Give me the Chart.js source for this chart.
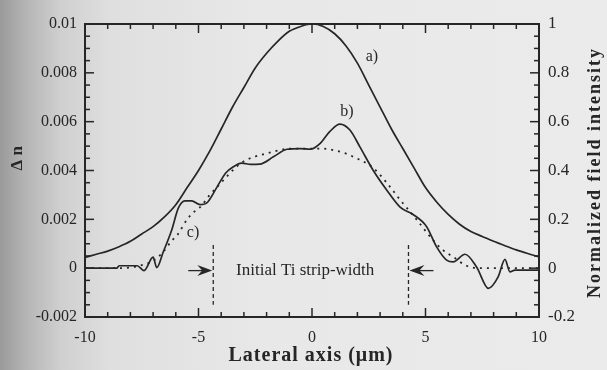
<!DOCTYPE html>
<html>
<head>
<meta charset="utf-8">
<script src="https://cdn.jsdelivr.net/npm/chart.js@4/dist/chart.umd.min.js"></script>
<style>
  html, body { margin: 0; padding: 0; }
  body {
    width: 607px; height: 370px; overflow: hidden;
    background: linear-gradient(to right, #9a9a9a 0px, #b4b4b4 25px, #cfcfcf 60px, #dfdfdf 110px, #e8e8e8 260px, #ebebeb 607px);
  }
  canvas { display: block; }
</style>
</head>
<body>
<canvas id="chart_canvas" width="607" height="370"></canvas>
<script>
// a) field intensity (left axis units: 0.01 = 1)
var xA = [-10, -9.5, -9, -8.5, -8, -7.5, -7, -6.5, -6, -5.5, -5, -4.5, -4, -3.5, -3, -2.5, -2, -1.5, -1, -0.5,
          0, 0.5, 1, 1.5, 2, 2.5, 3, 3.5, 4, 4.5, 5, 5.5, 6, 6.5, 7, 7.5, 8, 8.5, 9, 9.5, 10];
var yA = [0.00044, 0.00057, 0.0007, 0.00088, 0.0011, 0.0014, 0.0017, 0.0021, 0.0026, 0.0033, 0.0040, 0.0048,
          0.0057, 0.0066, 0.0074, 0.0082, 0.0088, 0.0093, 0.0097, 0.0099,
          0.0100, 0.0099, 0.0096, 0.0091, 0.0084, 0.0075, 0.0066, 0.0057, 0.0049, 0.0041, 0.0033, 0.0027,
          0.0022, 0.0018, 0.0015, 0.0013, 0.0011, 0.00092, 0.00075, 0.0006, 0.00046];

// b) index profile
var xB = [-10, -8.6, -8.5, -7.7, -7.4, -7.0, -6.84, -6.55, -6.18, -5.89, -5.6, -5.3, -4.93, -4.6, -4.2, -3.8,
          -3.47, -3.1, -2.7, -2.3, -1.7, -1.1, -0.53, -0.07, 0.35, 0.79, 1.23, 1.67, 2.11, 2.7, 3.29, 3.88,
          4.45, 5.05, 5.49, 5.93, 6.22, 6.74, 7.25, 7.77, 8.2, 8.5, 8.72, 8.94, 10];
var yB = [0, 0, 0.0001, 0.0001, -0.0001, 0.00045, 0.00002, 0.00067, 0.00156, 0.00246, 0.00276, 0.00276,
          0.0026, 0.0027, 0.0033, 0.0039, 0.00415, 0.0043, 0.00425, 0.00426, 0.00456, 0.00487, 0.0049,
          0.00487, 0.0051, 0.0056, 0.0059, 0.00566, 0.00497, 0.0040, 0.0032, 0.0025, 0.0022, 0.0017,
          0.00087, 0.00033, 0.00026, 0.00057, 0.00005, -0.00083, -0.00036, 0.00036, -0.00015, -0.00008, -0.00008];

// c) dotted profile
var xC = [-10, -8.5, -7.6, -7.0, -6.55, -6.2, -5.9, -5.5, -5.2, -4.93, -4.5, -4.1, -3.5, -3.03, -2.0, -0.84,
          0.35, 1.23, 1.97, 2.7, 3.29, 3.88, 4.6, 5.33, 5.77, 6.22, 6.8, 7.5, 10];
var yC = [0, 0, 0.0001, 0.0003, 0.00067, 0.0011, 0.0014, 0.0020, 0.0023, 0.0025, 0.0030, 0.0034, 0.0040,
          0.00436, 0.0047, 0.0049, 0.0049, 0.00477, 0.0045, 0.0041, 0.0035, 0.0028, 0.0020, 0.00115,
          0.00074, 0.00046, 0.0001, 0, 0];

var xTickLabels = ['-10', '-5', '0', '5', '10'];
var stripEdges = [-4.35, 4.25];

function pts(xs, ys) {
    return xs.map(function(x, i) { return { x: x, y: ys[i] }; });
}

var ink = '#262626';
var serif = "'Liberation Serif', 'DejaVu Serif', serif";

// frame, inward ticks, labels, arrows
var decor = {
    id: 'decor',
    afterDatasetsDraw: function(chart) {
        var ctx = chart.ctx, a = chart.chartArea;
        var sx = chart.scales.x, sy = chart.scales.y, sy2 = chart.scales.y2;
        ctx.save();
        ctx.strokeStyle = ink;
        ctx.fillStyle = ink;

        function seg(x1, y1, x2, y2) {
            ctx.beginPath(); ctx.moveTo(x1, y1); ctx.lineTo(x2, y2); ctx.stroke();
        }

        // ticks
        ctx.lineWidth = 1.5;
        for (var i = -10; i <= 10; i++) {
            var px = sx.getPixelForValue(i), len = (i % 5 === 0) ? 9 : 5;
            seg(px, a.bottom, px, a.bottom - len);
            seg(px, a.top, px, a.top + len);
        }
        for (var k = 0; k <= 24; k++) {
            var l = (k % 4 === 0) ? 9 : 5;
            var py = sy.getPixelForValue(-0.002 + k * 0.0005);
            seg(a.left, py, a.left + l, py);
            var py2 = sy2.getPixelForValue(-0.2 + k * 0.05);
            seg(a.right, py2, a.right - l, py2);
        }

        // frame
        ctx.lineWidth = 2;
        ctx.strokeRect(a.left, a.top, a.right - a.left, a.bottom - a.top);

        // strip edges
        ctx.lineWidth = 1.3;
        ctx.setLineDash([4, 3]);
        stripEdges.forEach(function(e) {
            var ex = sx.getPixelForValue(e);
            seg(ex, sy.getPixelForValue(0.00095), ex, sy.getPixelForValue(-0.0015));
        });
        ctx.setLineDash([]);

        // arrows pointing at the strip edges
        var ay = sy.getPixelForValue(-0.0001);
        function arrow(tipX, dir) {
            ctx.lineWidth = 1.3;
            seg(tipX - dir * 24, ay, tipX - dir * 9, ay);
            ctx.beginPath();
            ctx.moveTo(tipX, ay);
            ctx.lineTo(tipX - dir * 15, ay - 5.5);
            ctx.lineTo(tipX - dir * 10, ay);
            ctx.lineTo(tipX - dir * 15, ay + 5.5);
            ctx.closePath();
            ctx.fill();
        }
        arrow(sx.getPixelForValue(stripEdges[0]) - 1, 1);
        arrow(sx.getPixelForValue(stripEdges[1]) + 1, -1);

        // curve labels
        ctx.font = '16px ' + serif;
        ctx.textAlign = 'center';
        ctx.textBaseline = 'middle';
        ctx.fillText('a)', sx.getPixelForValue(2.64), sy.getPixelForValue(0.00865));
        ctx.fillText('b)', sx.getPixelForValue(1.54), sy.getPixelForValue(0.0064));
        ctx.fillText('c)', sx.getPixelForValue(-5.24), sy.getPixelForValue(0.00143));
        ctx.font = '17px ' + serif;
        ctx.fillText('Initial Ti strip-width', sx.getPixelForValue(-0.3), ay);

        // axis titles
        ctx.font = 'bold 20px ' + serif;
        ctx.letterSpacing = '1px';
        ctx.fillText('Lateral axis (\u03bcm)', (a.left + a.right) / 2 - 1, chart.height - 14);
        ctx.letterSpacing = '0px';

        ctx.save();
        ctx.translate(18, sy.getPixelForValue(0.0045));
        ctx.rotate(-Math.PI / 2);
        ctx.font = 'bold 17px ' + serif;
        ctx.fillText('\u0394 n', 0, 0);
        ctx.restore();

        ctx.save();
        ctx.translate(595, (a.top + a.bottom) / 2 + 2);
        ctx.rotate(-Math.PI / 2);
        ctx.font = 'bold 18px ' + serif;
        ctx.letterSpacing = '2px';
        ctx.fillText('Normalized field intensity', 0, 0);
        ctx.restore();

        ctx.restore();
    }
};

var ctxM = document.getElementById('chart_canvas');
var chartM = new Chart(ctxM, {
    type: 'line',
    data: {
        datasets: [{
            label: 'a)',
            data: pts(xA, yA),
            borderColor: ink,
            borderWidth: 1.7,
            pointRadius: 0,
            cubicInterpolationMode: 'monotone'
        },
        {
            label: 'b)',
            data: pts(xB, yB),
            borderColor: ink,
            borderWidth: 1.7,
            pointRadius: 0,
            cubicInterpolationMode: 'monotone'
        },
        {
            label: 'c)',
            data: pts(xC, yC),
            borderColor: ink,
            borderWidth: 1.8,
            borderDash: [2, 5],
            pointRadius: 0,
            cubicInterpolationMode: 'monotone'
        }]
    },
    options: {
        responsive: false,
        animation: false,
        layout: { padding: { top: 24 } },
        plugins: {
            legend: { display: false },
            tooltip: { enabled: false }
        },
        scales: {
            x: {
                type: 'linear',
                min: -10,
                max: 10,
                afterFit: function(s) { s.height = 53; },
                afterBuildTicks: function(s) {
                    s.ticks = xTickLabels.map(function(t) { return { value: +t }; });
                },
                grid: { display: false, drawTicks: false, tickLength: 0 },
                border: { display: false },
                ticks: {
                    padding: 11,
                    color: ink,
                    font: { family: serif, size: 16 },
                    maxRotation: 0,
                    callback: function(v) { return String(v); }
                }
            },
            y: {
                min: -0.002,
                max: 0.01,
                position: 'left',
                afterFit: function(s) { s.width = 85; },
                grid: { display: false, drawTicks: false, tickLength: 0 },
                border: { display: false },
                ticks: {
                    stepSize: 0.002,
                    padding: 8,
                    color: ink,
                    font: { family: serif, size: 16 },
                    callback: function(v) { return String(+v.toFixed(3)); }
                }
            },
            y2: {
                min: -0.2,
                max: 1,
                position: 'right',
                afterFit: function(s) { s.width = 68; },
                grid: { display: false, drawTicks: false, tickLength: 0 },
                border: { display: false },
                ticks: {
                    stepSize: 0.2,
                    padding: 9,
                    color: ink,
                    font: { family: serif, size: 17 },
                    callback: function(v) { return String(+v.toFixed(1)); }
                }
            }
        }
    },
    plugins: [decor]
});
</script>
</body>
</html>
